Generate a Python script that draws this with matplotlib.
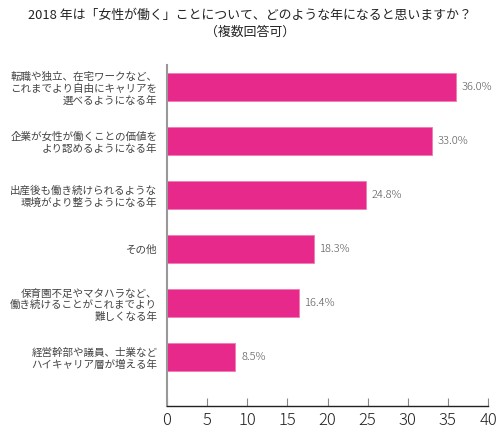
import matplotlib
matplotlib.use("Agg")
import matplotlib.pyplot as plt

plt.rcParams['font.family'] = ['Noto Sans CJK JP', 'DejaVu Sans']

labels = [
    "転職や独立、在宅ワークなど、\nこれまでより自由にキャリアを\n選べるようになる年",
    "企業が女性が働くことの価値を\nより認めるようになる年",
    "出産後も働き続けられるような\n環境がより整うようになる年",
    "その他",
    "保育園不足やマタハラなど、\n働き続けることがこれまでより\n難しくなる年",
    "経営幹部や議員、士業など\nハイキャリア層が増える年",
]
values = [36.0, 33.0, 24.8, 18.3, 16.4, 8.5]
xticks = [0, 5, 10, 15, 20, 25, 30, 35, 40]
title = "2018 年は「女性が働く」ことについて、どのような年になると思いますか？\n（複数回答可）"

pink = "#E6298A"

fig = plt.figure(figsize=(5.0, 4.28), dpi=100)
ax = fig.add_axes([0.334, 0.0514, 0.642, 0.797])

pos = list(range(len(values)))
ax.barh(pos, values, height=0.52, color=pink, edgecolor="#F07AB5", linewidth=0.6)

for p, v in zip(pos, values):
    ax.text(v + 0.75, p, f"{v:.1f}%", va="center", ha="left",
            fontsize=8, color="#555555", fontweight="light")

ax.set_yticks(pos)
ax.set_yticklabels(labels, fontsize=7.6, color="#444444", linespacing=1.2)
ax.set_ylim(5.9, -0.41)
ax.set_xlim(0, 40)
ax.set_xticks(xticks)
ax.set_xticklabels([str(t) for t in xticks], fontsize=12, color="#222222",
                   fontweight="light")

ax.tick_params(axis="y", length=0, pad=7)
ax.tick_params(axis="x", direction="in", length=6, color="#888888", pad=4)

for s in ["top", "right"]:
    ax.spines[s].set_visible(False)
ax.spines["left"].set_color("#999999")
ax.spines["left"].set_linewidth(1.5)
ax.spines["bottom"].set_color("#222222")
ax.spines["bottom"].set_linewidth(1.0)

fig.text(0.5, 0.98, title, ha="center", va="top", fontsize=9.3,
         color="#222222", linespacing=1.45)

fig.savefig("out.png", dpi=100)
